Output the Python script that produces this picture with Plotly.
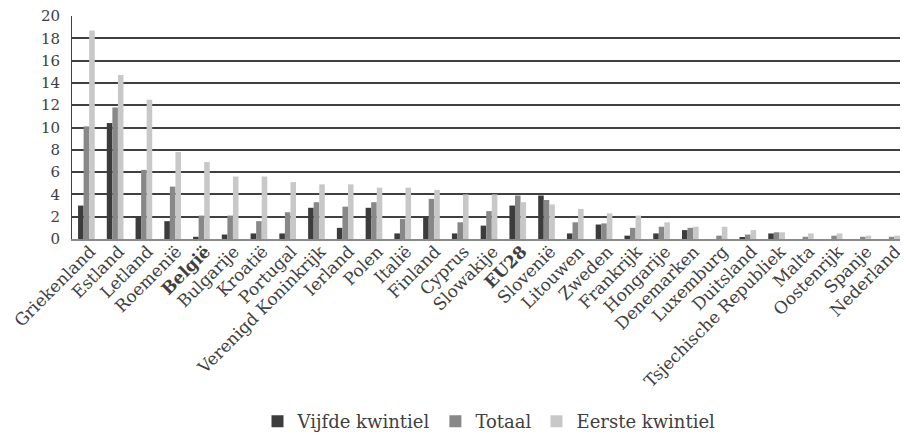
import plotly.graph_objects as go

countries = [
    "Griekenland", "Estland", "Letland", "Roemenië", "België", "Bulgarije",
    "Kroatië", "Portugal", "Verenigd Koninkrijk", "Ierland", "Polen", "Italië",
    "Finland", "Cyprus", "Slowakije", "EU28", "Slovenië", "Litouwen", "Zweden",
    "Frankrijk", "Hongarije", "Denemarken", "Luxemburg", "Duitsland",
    "Tsjechische Republiek", "Malta", "Oostenrijk", "Spanje", "Nederland",
]
bold_labels = ["België", "EU28"]

vijfde_kwintiel = [
    3.0, 10.4, 2.0, 1.6, 0.2, 0.4, 0.5, 0.5, 2.8, 1.0, 2.8, 0.5, 1.9, 0.5,
    1.2, 3.0, 3.9, 0.5, 1.3, 0.3, 0.5, 0.8, 0.0, 0.1, 0.5, 0.0, 0.0, 0.0, 0.0,
]
totaal = [
    10.1, 11.8, 6.2, 4.7, 2.1, 2.1, 1.6, 2.4, 3.3, 2.9, 3.3, 1.8, 3.6, 1.5,
    2.5, 3.9, 3.5, 1.5, 1.4, 1.0, 1.1, 1.0, 0.3, 0.4, 0.6, 0.2, 0.3, 0.2, 0.2,
]
eerste_kwintiel = [
    18.7, 14.7, 12.5, 7.8, 6.9, 5.6, 5.6, 5.1, 4.9, 4.9, 4.6, 4.6, 4.4, 4.0,
    4.0, 3.3, 3.1, 2.7, 2.3, 2.1, 1.5, 1.1, 1.1, 0.8, 0.6, 0.5, 0.5, 0.3, 0.3,
]

tick_text = [f"<b>{c}</b>" if c in bold_labels else c for c in countries]

FONT = "DejaVu Serif"

fig = go.Figure()
for name, vals, color in [
    ("Vijfde kwintiel", vijfde_kwintiel, "#3c3c3c"),
    ("Totaal", totaal, "#888888"),
    ("Eerste kwintiel", eerste_kwintiel, "#c8c8c8"),
]:
    fig.add_trace(go.Bar(x=countries, y=vals, name=name, marker_color=color,
                         marker_line_width=0))

# page body has an 8px margin, so the figure is a bit smaller than the window
fig.update_layout(
    width=900,
    height=433,
    barmode="group",
    bargap=0.42,
    bargroupgap=0,
    plot_bgcolor="white",
    paper_bgcolor="white",
    margin=dict(l=64, r=2, t=8, b=201),
    font=dict(family=FONT, size=17, color="#404040"),
    legend=dict(
        orientation="h",
        x=0.5,
        xanchor="center",
        y=-0.81,
        yanchor="middle",
        font=dict(size=18),
        traceorder="normal",
    ),
    xaxis=dict(
        tickmode="array",
        tickvals=countries,
        ticktext=tick_text,
        tickangle=-45,
        showline=True,
        linecolor="#8a8a8a",
        linewidth=2,
        ticks="",
        ticklabelstandoff=-6,
        ticklabelshift=4,
        automargin=False,
    ),
    yaxis=dict(
        range=[0, 20],
        dtick=2,
        showgrid=True,
        gridcolor="#404040",
        gridwidth=1.5,
        showline=True,
        linecolor="#404040",
        linewidth=1,
        zeroline=False,
        ticklabelstandoff=8,
        ticklabeloverflow="allow",
        tickfont=dict(size=15),
        automargin=False,
    ),
)

fig.write_html("out.html")
